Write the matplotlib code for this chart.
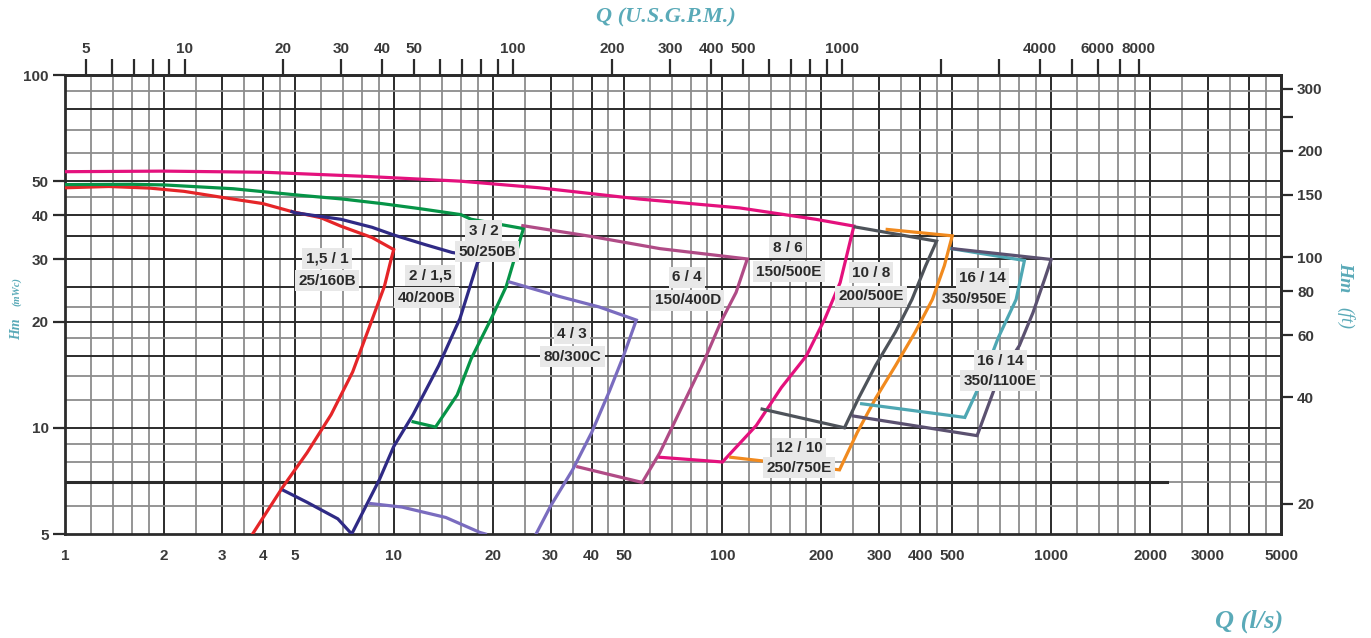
import matplotlib
matplotlib.use('Agg')
import matplotlib.pyplot as plt
from matplotlib.ticker import NullLocator

plt.rcParams['font.family'] = ['Liberation Sans', 'DejaVu Sans']
plt.rcParams['font.weight'] = 'bold'

# ---- data (Q in l/s, H in mWc) ----
red_q = [1.0, 1.36, 1.81, 2.3, 3.0, 4.0, 4.9, 6.0, 6.9, 8.6, 10.0, 9.85, 9.37, 8.6, 7.5, 6.45, 5.45, 4.6, 3.72]
red_h = [47.9, 48.3, 47.8, 46.8, 45.0, 43.2, 41.0, 39.4, 37.3, 34.6, 32.0, 30.4, 25.2, 20.3, 14.4, 10.9, 8.5, 6.8, 5.0]

navy_q = [4.9, 5.0, 6.9, 8.6, 10.0, 12.4, 15.05, 18.9, 18.0, 15.9, 13.7, 11.45, 10.0, 9.05, 7.45, 6.76, 5.45, 4.63]
navy_h = [41.0, 40.7, 39.0, 37.0, 35.2, 33.1, 31.4, 30.4, 29.5, 20.4, 15.0, 10.9, 8.85, 7.14, 5.0, 5.52, 6.15, 6.64]

green_q = [1.0, 1.6, 2.0, 3.25, 5.2, 7.0, 9.2, 12.0, 16.0, 17.2, 24.8, 22.0, 19.8, 17.2, 15.6, 13.4, 11.45]
green_h = [48.9, 49.0, 48.8, 47.6, 45.6, 44.5, 43.2, 41.8, 40.2, 39.0, 36.7, 25.2, 20.4, 15.7, 12.4, 10.05, 10.4]

lav_q = [22.5, 31.7, 42.2, 54.7, 50.0, 45.3, 40.0, 35.0, 30.0, 27.1]
lav_h = [25.9, 23.6, 22.0, 20.2, 16.0, 12.7, 9.7, 7.6, 6.0, 5.0]
lav_low_q = [8.5, 10.6, 14.4, 18.3, 19.0]
lav_low_h = [6.1, 5.96, 5.57, 5.05, 5.0]

mauve_q = [24.7, 40.0, 64.5, 119.0, 110.0, 99.0, 88.5, 77.7, 64.5, 57.0, 36.3]
mauve_h = [37.4, 34.85, 32.2, 30.1, 24.2, 20.0, 15.7, 12.2, 8.5, 7.0, 7.75]

pink_q = [1.0, 2.0, 4.05, 8.2, 16.0, 27.7, 56.0, 112.8, 192.0, 251.0, 228.0, 205.0, 180.0, 151.0, 126.7, 100.0, 64.5]
pink_h = [53.2, 53.4, 53.0, 51.6, 50.0, 47.9, 44.5, 42.0, 39.0, 37.3, 25.8, 20.4, 16.0, 13.0, 10.15, 8.0, 8.25]

grey_q = [253, 448, 415, 377, 336, 292, 259, 235, 132]
grey_h = [37.1, 33.8, 28.8, 23.1, 18.7, 15.0, 12.1, 10.0, 11.3]

orange_q = [317, 500, 473, 435, 386, 336, 292, 257, 227, 106]
orange_h = [36.5, 35.0, 28.8, 23.1, 18.7, 15.0, 12.1, 9.7, 7.6, 8.25]

teal_q = [497, 829, 782, 690, 619, 546, 265]
teal_h = [32.2, 29.8, 23.1, 18.0, 13.8, 10.7, 11.7]

gp_q = [500, 1000, 955, 880, 800, 690, 595, 250]
gp_h = [32.2, 30.0, 26.4, 21.2, 17.1, 13.8, 9.5, 10.8]

# pump labels: (line1, line2, q1, h1, q2, h2)
labels = [
    ("1,5 / 1", "25/160B", 6.27, 30.2, 6.27, 26.1),
    ("2 / 1,5", "40/200B", 12.9, 27.0, 12.6, 23.4),
    ("3 / 2", "50/250B", 18.75, 36.2, 19.2, 31.6),
    ("4 / 3", "80/300C", 34.8, 18.5, 35.0, 15.9),
    ("6 / 4", "150/400D", 78.0, 26.7, 78.5, 23.0),
    ("8 / 6", "150/500E", 157.7, 32.4, 159.0, 27.7),
    ("10 / 8", "200/500E", 283.0, 27.5, 283.0, 23.6),
    ("12 / 10", "250/750E", 171.0, 8.75, 171.0, 7.7),
    ("16 / 14", "350/950E", 619.0, 26.6, 584.0, 23.2),
    ("16 / 14", "350/1100E", 700.0, 15.5, 700.0, 13.6),
]

bottom_ticks = [1, 2, 3, 4, 5, 10, 20, 30, 40, 50, 100, 200, 300, 400, 500, 1000, 2000, 3000, 5000]
left_ticks = [5, 10, 20, 30, 40, 50, 100]
gpm_ticks = [5, 6, 7, 8, 9, 10, 20, 30, 40, 50, 60, 70, 80, 90, 100, 200, 300, 400, 500,
             600, 700, 800, 900, 1000, 2000, 3000, 4000, 5000, 6000, 7000, 8000]
gpm_labelled = [5, 10, 20, 30, 40, 50, 100, 200, 300, 400, 500, 1000, 4000, 6000, 8000]
ft_ticks = [20, 40, 60, 80, 100, 150, 200, 250, 300]
ft_labelled = [20, 40, 60, 80, 100, 150, 200, 300]

grid_steps = [1, 1.2, 1.4, 1.6, 1.8, 2, 2.5, 3, 3.5, 4, 4.5, 5, 6, 7, 8, 9]
grid_h = [6, 7, 8, 9, 10, 12, 14, 16, 18, 20, 22, 25, 30, 35, 40, 45, 50, 60, 70, 80, 90]
dark_h = [10, 16, 20, 25, 30, 35, 40, 50, 80]
ref_h, ref_qmax = 7, 2250

GPM_PER_LS = 4.33
FT_PER_M = 3.2808
teal_txt = '#5aaab8'
dark = '#2b2b2b'
grey = '#8c8c8c'

W, H = 1371, 638
fig = plt.figure(figsize=(W / 100, H / 100), dpi=100)
ax = fig.add_axes([65 / W, 1 - 534 / H, 1216 / W, 459 / H])
ax.set_xscale('log')
ax.set_yscale('log')
ax.set_xlim(1, 5000)
ax.set_ylim(5, 100)

# grid
for dec in [1, 10, 100, 1000]:
    for s in grid_steps:
        v = s * dec
        if 1 < v < 5000:
            isdark = s in (1, 2, 3, 4, 5)
            ax.axvline(v, color=dark if isdark else grey, lw=1.4 if isdark else 1.3, zorder=1)
for v in grid_h:
    isdark = v in dark_h
    ax.axhline(v, color=dark if isdark else grey, lw=1.4 if isdark else 1.3, zorder=1)
ax.plot([1, ref_qmax], [ref_h, ref_h], color=dark, lw=2.2, zorder=2)

for s in ax.spines.values():
    s.set_linewidth(2)
    s.set_color(dark)

# curves
curves = [
    (red_q, red_h, '#e52528'),
    (navy_q, navy_h, '#2f2a85'),
    (green_q, green_h, '#069447'),
    (lav_q, lav_h, '#7a6cbf'),
    (lav_low_q, lav_low_h, '#7a6cbf'),
    (mauve_q, mauve_h, '#b04b86'),
    (pink_q, pink_h, '#e4117d'),
    (grey_q, grey_h, '#4e535a'),
    (orange_q, orange_h, '#f18a1e'),
    (teal_q, teal_h, '#4ea7b3'),
    (gp_q, gp_h, '#5b5170'),
]
for q, h, c in curves:
    ax.plot(q, h, color=c, lw=2.3, zorder=3, solid_joinstyle='miter')

box = dict(boxstyle='square,pad=0.22', facecolor='#e8e8e8', edgecolor='none')
for l1, l2, q1, h1, q2, h2 in labels:
    for txt, q, h in ((l1, q1, h1), (l2, q2, h2)):
        ax.text(q, h, txt, ha='center', va='center', fontsize=11, fontweight='bold',
                family=['Liberation Sans Narrow', 'Liberation Sans'], color='#2a2a2a',
                bbox=box, zorder=5)

# bottom / left ticks
tick_col = '#3a3a3a'
ax.set_xticks(bottom_ticks, [str(t) for t in bottom_ticks])
ax.xaxis.set_minor_locator(NullLocator())
ax.tick_params(axis='x', length=0, pad=11, labelsize=11, labelcolor=tick_col)
ax.set_yticks(left_ticks, [str(t) for t in left_ticks])
ax.yaxis.set_minor_locator(NullLocator())
ax.tick_params(axis='y', length=8.6, width=1.6, color=dark, pad=3, labelsize=11, labelcolor=tick_col)

# top axis in US GPM
top = ax.secondary_xaxis('top', functions=(lambda q: q * GPM_PER_LS, lambda g: g / GPM_PER_LS))
top.set_xticks(gpm_ticks, [str(t) if t in gpm_labelled else '' for t in gpm_ticks])
top.xaxis.set_minor_locator(NullLocator())
top.tick_params(length=11.5, width=1.6, color=dark, pad=2, labelsize=11, labelcolor=tick_col)
top.spines['top'].set_linewidth(2)
top.spines['top'].set_color(dark)

# right axis in ft
right = ax.secondary_yaxis('right', functions=(lambda m: m * FT_PER_M, lambda f: f / FT_PER_M))
right.set_yticks(ft_ticks, [str(t) if t in ft_labelled else '' for t in ft_ticks])
right.yaxis.set_minor_locator(NullLocator())
right.tick_params(length=8.6, width=1.6, color=dark, pad=3, labelsize=11, labelcolor=tick_col)
right.spines['right'].set_linewidth(2)
right.spines['right'].set_color(dark)

# axis titles
serif = ['Liberation Serif', 'DejaVu Serif']
fig.text(666 / W, 1 - 17 / H, 'Q (U.S.G.P.M.)', ha='center', va='center', fontsize=16,
         style='italic', fontweight='bold', family=serif, color=teal_txt)
fig.text(1249 / W, 1 - 621 / H, 'Q (l/s)', ha='center', va='center', fontsize=19,
         style='italic', fontweight='bold', family=serif, color=teal_txt)
fig.text(17 / W, 1 - 329 / H, 'Hm', ha='center', va='center', rotation=90, fontsize=10,
         style='italic', fontweight='bold', family=serif, color=teal_txt)
fig.text(17 / W, 1 - 291 / H, '(mWc)', ha='center', va='center', rotation=90, fontsize=7.5,
         style='italic', fontweight='bold', family=serif, color=teal_txt)
fig.text(1345 / W, 1 - 277 / H, 'Hm', ha='center', va='center', rotation=-90, fontsize=14,
         style='italic', fontweight='bold', family=serif, color=teal_txt)
fig.text(1345 / W, 1 - 318 / H, '(ft)', ha='center', va='center', rotation=-90, fontsize=13,
         style='italic', fontweight='normal', family=serif, color=teal_txt)

fig.savefig('out.png', dpi=100)
